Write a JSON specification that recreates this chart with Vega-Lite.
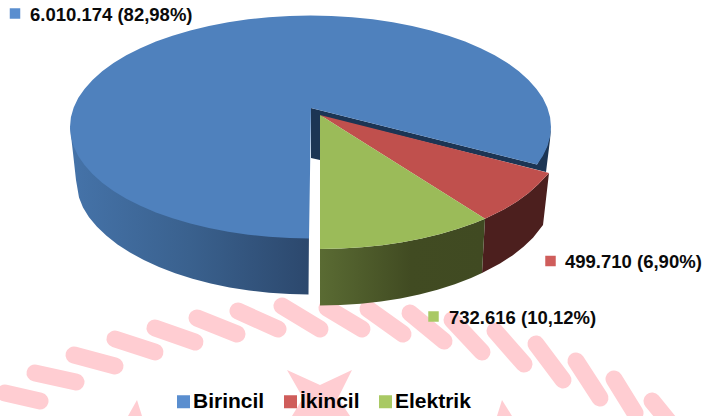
{"$schema":"https://vega.github.io/schema/vega-lite/v6.json","width":705,"height":416,"padding":0,"autosize":{"type":"none"},"background":"#ffffff","config":{"view":{"stroke":null}},
"datasets":{
"ropeaxis":[
{"b":1,"i":0,"x":5,"y":393},{"b":1,"i":1,"x":40,"y":401},
{"b":2,"i":0,"x":35,"y":373},{"b":2,"i":1,"x":76,"y":382},
{"b":3,"i":0,"x":74,"y":355},{"b":3,"i":1,"x":115,"y":366},
{"b":4,"i":0,"x":115,"y":339},{"b":4,"i":1,"x":155,"y":352},
{"b":5,"i":0,"x":155,"y":328},{"b":5,"i":1,"x":195,"y":342},
{"b":6,"i":0,"x":197,"y":318},{"b":6,"i":1,"x":237,"y":334},
{"b":7,"i":0,"x":238,"y":311},{"b":7,"i":1,"x":278,"y":329},
{"b":8,"i":0,"x":282,"y":306},{"b":8,"i":1,"x":320,"y":329},
{"b":9,"i":0,"x":327,"y":308},{"b":9,"i":1,"x":362,"y":329},
{"b":10,"i":0,"x":368,"y":309},{"b":10,"i":1,"x":403,"y":334},
{"b":11,"i":0,"x":410,"y":313},{"b":11,"i":1,"x":444,"y":341},
{"b":12,"i":0,"x":452,"y":320},{"b":12,"i":1,"x":482,"y":352},
{"b":13,"i":0,"x":495,"y":331},{"b":13,"i":1,"x":524,"y":364},
{"b":14,"i":0,"x":536,"y":344},{"b":14,"i":1,"x":563,"y":380},
{"b":15,"i":0,"x":576,"y":361},{"b":15,"i":1,"x":600,"y":398},
{"b":16,"i":0,"x":614,"y":379},{"b":16,"i":1,"x":635,"y":413},
{"b":17,"i":0,"x":652,"y":401},{"b":17,"i":1,"x":670,"y":423}
],
"shapes":[
{"p":"star","i":0,"x":287,"y":370},{"p":"star","i":1,"x":320,"y":385},{"p":"star","i":2,"x":352,"y":370},{"p":"star","i":3,"x":338,"y":398},{"p":"star","i":4,"x":350,"y":416},{"p":"star","i":5,"x":292,"y":416},{"p":"star","i":6,"x":303,"y":398},
{"p":"spike1","i":0,"x":137,"y":400},{"p":"spike1","i":1,"x":142,"y":416},{"p":"spike1","i":2,"x":128,"y":416},
{"p":"spike2","i":0,"x":502,"y":400},{"p":"spike2","i":1,"x":512,"y":416},{"p":"spike2","i":2,"x":497,"y":416},
{"p":"bluewall","i":0,"x":70,"y":127},{"p":"bluewall","i":1,"x":73,"y":153},{"p":"bluewall","i":2,"x":76,"y":180},{"p":"bluewall","i":3,"x":79,"y":197.4},{"p":"bluewall","i":4,"x":83,"y":207.4},{"p":"bluewall","i":5,"x":89,"y":217.2},{"p":"bluewall","i":6,"x":97,"y":226.7},{"p":"bluewall","i":7,"x":106.5,"y":235.8},{"p":"bluewall","i":8,"x":117.5,"y":244.4},{"p":"bluewall","i":9,"x":130,"y":252.5},{"p":"bluewall","i":10,"x":143.8,"y":260},{"p":"bluewall","i":11,"x":159,"y":267},{"p":"bluewall","i":12,"x":175.2,"y":273.2},{"p":"bluewall","i":13,"x":192.5,"y":278.8},{"p":"bluewall","i":14,"x":210.7,"y":283.5},{"p":"bluewall","i":15,"x":229.6,"y":287.4},{"p":"bluewall","i":16,"x":249.2,"y":290.5},{"p":"bluewall","i":17,"x":269.2,"y":292.7},{"p":"bluewall","i":18,"x":289.5,"y":294},{"p":"bluewall","i":19,"x":308.5,"y":294.5},{"p":"bluewall","i":20,"x":309,"y":230},{"p":"bluewall","i":21,"x":230,"y":222},{"p":"bluewall","i":22,"x":110,"y":170},
{"p":"inner","i":0,"x":311,"y":108},{"p":"inner","i":1,"x":537,"y":164.5},{"p":"inner","i":2,"x":547,"y":146},{"p":"inner","i":3,"x":551,"y":127},{"p":"inner","i":4,"x":550,"y":140},{"p":"inner","i":5,"x":546,"y":172},{"p":"inner","i":6,"x":320,"y":116},{"p":"inner","i":7,"x":320,"y":160},{"p":"inner","i":8,"x":311,"y":158},
{"p":"bluetop","i":0,"x":311,"y":108},{"p":"bluetop","i":1,"x":309,"y":238.5},{"p":"bluetop","i":2,"x":289.5,"y":238.1},{"p":"bluetop","i":3,"x":268.7,"y":236.8},{"p":"bluetop","i":4,"x":248.3,"y":234.7},{"p":"bluetop","i":5,"x":228.2,"y":231.8},{"p":"bluetop","i":6,"x":208.9,"y":228},{"p":"bluetop","i":7,"x":190.3,"y":223.6},{"p":"bluetop","i":8,"x":172.5,"y":218.3},{"p":"bluetop","i":9,"x":155.9,"y":212.4},{"p":"bluetop","i":10,"x":140.4,"y":205.8},{"p":"bluetop","i":11,"x":126.3,"y":198.7},{"p":"bluetop","i":12,"x":113.5,"y":191},{"p":"bluetop","i":13,"x":102.2,"y":182.8},{"p":"bluetop","i":14,"x":92.5,"y":174.1},{"p":"bluetop","i":15,"x":84.5,"y":165.1},{"p":"bluetop","i":16,"x":78.2,"y":155.9},{"p":"bluetop","i":17,"x":73.7,"y":146.4},{"p":"bluetop","i":18,"x":70.9,"y":136.7},{"p":"bluetop","i":19,"x":70,"y":127},{"p":"bluetop","i":20,"x":70.9,"y":117.3},{"p":"bluetop","i":21,"x":73.7,"y":107.6},{"p":"bluetop","i":22,"x":78.2,"y":98.1},{"p":"bluetop","i":23,"x":84.5,"y":88.9},{"p":"bluetop","i":24,"x":92.5,"y":79.9},{"p":"bluetop","i":25,"x":102.2,"y":71.2},{"p":"bluetop","i":26,"x":113.5,"y":63},{"p":"bluetop","i":27,"x":126.3,"y":55.3},{"p":"bluetop","i":28,"x":140.4,"y":48.2},{"p":"bluetop","i":29,"x":155.9,"y":41.6},{"p":"bluetop","i":30,"x":172.5,"y":35.7},{"p":"bluetop","i":31,"x":190.3,"y":30.4},{"p":"bluetop","i":32,"x":208.9,"y":26},{"p":"bluetop","i":33,"x":228.2,"y":22.2},{"p":"bluetop","i":34,"x":248.3,"y":19.3},{"p":"bluetop","i":35,"x":268.7,"y":17.2},{"p":"bluetop","i":36,"x":289.5,"y":15.9},{"p":"bluetop","i":37,"x":310.5,"y":15.5},{"p":"bluetop","i":38,"x":331.5,"y":15.9},{"p":"bluetop","i":39,"x":352.3,"y":17.2},{"p":"bluetop","i":40,"x":372.7,"y":19.3},{"p":"bluetop","i":41,"x":392.8,"y":22.2},{"p":"bluetop","i":42,"x":412.1,"y":26},{"p":"bluetop","i":43,"x":430.7,"y":30.4},{"p":"bluetop","i":44,"x":448.5,"y":35.7},{"p":"bluetop","i":45,"x":465.1,"y":41.6},{"p":"bluetop","i":46,"x":480.6,"y":48.2},{"p":"bluetop","i":47,"x":494.7,"y":55.3},{"p":"bluetop","i":48,"x":507.5,"y":63},{"p":"bluetop","i":49,"x":518.8,"y":71.2},{"p":"bluetop","i":50,"x":528.5,"y":79.9},{"p":"bluetop","i":51,"x":536.5,"y":88.9},{"p":"bluetop","i":52,"x":542.8,"y":98.1},{"p":"bluetop","i":53,"x":547.3,"y":107.6},{"p":"bluetop","i":54,"x":550.1,"y":117.3},{"p":"bluetop","i":55,"x":551,"y":127},{"p":"bluetop","i":56,"x":550.1,"y":136.7},{"p":"bluetop","i":57,"x":547.3,"y":146.4},{"p":"bluetop","i":58,"x":542.8,"y":155.9},{"p":"bluetop","i":59,"x":537,"y":164.5},
{"p":"greenwall","i":0,"x":320,"y":249},{"p":"greenwall","i":1,"x":341,"y":248.6},{"p":"greenwall","i":2,"x":361.8,"y":247.3},{"p":"greenwall","i":3,"x":382.2,"y":245.2},{"p":"greenwall","i":4,"x":402.3,"y":242.3},{"p":"greenwall","i":5,"x":421.6,"y":238.5},{"p":"greenwall","i":6,"x":440.3,"y":234.1},{"p":"greenwall","i":7,"x":458,"y":228.8},{"p":"greenwall","i":8,"x":474.6,"y":222.9},{"p":"greenwall","i":9,"x":485,"y":218.7},{"p":"greenwall","i":10,"x":482,"y":273},{"p":"greenwall","i":11,"x":471.1,"y":278},{"p":"greenwall","i":12,"x":454.8,"y":284.3},{"p":"greenwall","i":13,"x":437.5,"y":289.8},{"p":"greenwall","i":14,"x":419.3,"y":294.5},{"p":"greenwall","i":15,"x":400.4,"y":298.4},{"p":"greenwall","i":16,"x":380.8,"y":301.5},{"p":"greenwall","i":17,"x":360.8,"y":303.7},{"p":"greenwall","i":18,"x":340.5,"y":305},{"p":"greenwall","i":19,"x":320,"y":305.5},
{"p":"redwall","i":0,"x":485,"y":218.7},{"p":"redwall","i":1,"x":504.2,"y":209.2},{"p":"redwall","i":2,"x":517,"y":201.5},{"p":"redwall","i":3,"x":528.3,"y":193.3},{"p":"redwall","i":4,"x":538,"y":184.6},{"p":"redwall","i":5,"x":549,"y":173},{"p":"redwall","i":6,"x":543,"y":225},{"p":"redwall","i":7,"x":533,"y":237.7},{"p":"redwall","i":8,"x":523.5,"y":246.8},{"p":"redwall","i":9,"x":512.5,"y":255.4},{"p":"redwall","i":10,"x":500,"y":263.5},{"p":"redwall","i":11,"x":482,"y":273},
{"p":"redtop","i":0,"x":320,"y":115},{"p":"redtop","i":1,"x":549,"y":173},{"p":"redtop","i":2,"x":538,"y":184.6},{"p":"redtop","i":3,"x":528.3,"y":193.3},{"p":"redtop","i":4,"x":517,"y":201.5},{"p":"redtop","i":5,"x":504.2,"y":209.2},{"p":"redtop","i":6,"x":485,"y":218.7},
{"p":"greentop","i":0,"x":320,"y":115},{"p":"greentop","i":1,"x":485,"y":218.7},{"p":"greentop","i":2,"x":474.6,"y":222.9},{"p":"greentop","i":3,"x":458,"y":228.8},{"p":"greentop","i":4,"x":440.3,"y":234.1},{"p":"greentop","i":5,"x":421.6,"y":238.5},{"p":"greentop","i":6,"x":402.3,"y":242.3},{"p":"greentop","i":7,"x":382.2,"y":245.2},{"p":"greentop","i":8,"x":361.8,"y":247.3},{"p":"greentop","i":9,"x":341,"y":248.6},{"p":"greentop","i":10,"x":320,"y":249}
],
"labels":[
{"source":"Birincil","value":6010174,"label":"6.010.174 (82,98%)","sx":15,"sy":13.5,"tx":30,"ty":15},
{"source":"İkincil","value":499710,"label":"499.710 (6,90%)","sx":550.5,"sy":261,"tx":565,"ty":262},
{"source":"Elektrik","value":732616,"label":"732.616 (10,12%)","sx":433.5,"sy":316.5,"tx":449,"ty":318}
]},
"encoding":{"x":{"field":"x","type":"quantitative","scale":{"domain":[0,705],"nice":false},"axis":null},"y":{"field":"y","type":"quantitative","scale":{"domain":[416,0],"nice":false},"axis":null}},
"layer":[
{"data":{"name":"ropeaxis"},"mark":{"type":"line","stroke":"#FFCDD2","strokeWidth":17,"strokeCap":"round"},"encoding":{"detail":{"field":"b"},"order":{"field":"i"}}},
{"data":{"name":"shapes"},"transform":[{"filter":"datum.p==='star'||datum.p==='spike1'||datum.p==='spike2'"}],"mark":{"type":"line","fill":"#FFCDD2","strokeWidth":0},"encoding":{"detail":{"field":"p"},"order":{"field":"i"}}},
{"data":{"name":"shapes"},"transform":[{"filter":"datum.p==='bluewall'"}],"mark":{"type":"line","strokeWidth":0,"fill":{"gradient":"linear","x1":0,"x2":1,"y1":0,"y2":0,"stops":[{"offset":0,"color":"#4573A9"},{"offset":0.5,"color":"#3A618E"},{"offset":1,"color":"#2C486D"}]}},"encoding":{"order":{"field":"i"}}},
{"data":{"name":"shapes"},"transform":[{"filter":"datum.p==='inner'"}],"mark":{"type":"line","strokeWidth":0,"fill":"#1C3554"},"encoding":{"order":{"field":"i"}}},
{"data":{"name":"shapes"},"transform":[{"filter":"datum.p==='bluetop'"}],"mark":{"type":"line","strokeWidth":0,"fill":"#4F81BD"},"encoding":{"order":{"field":"i"}}},
{"data":{"name":"shapes"},"transform":[{"filter":"datum.p==='redwall'"}],"mark":{"type":"line","strokeWidth":0,"fill":"#4C1F1E"},"encoding":{"order":{"field":"i"}}},
{"data":{"name":"shapes"},"transform":[{"filter":"datum.p==='greenwall'"}],"mark":{"type":"line","strokeWidth":0,"fill":{"gradient":"linear","x1":0,"x2":1,"y1":0,"y2":0,"stops":[{"offset":0,"color":"#5A6B33"},{"offset":0.55,"color":"#414B22"},{"offset":1,"color":"#404A22"}]}},"encoding":{"order":{"field":"i"}}},
{"data":{"name":"shapes"},"transform":[{"filter":"datum.p==='redtop'"}],"mark":{"type":"line","strokeWidth":0,"fill":"#C0504D"},"encoding":{"order":{"field":"i"}}},
{"data":{"name":"shapes"},"transform":[{"filter":"datum.p==='greentop'"}],"mark":{"type":"line","strokeWidth":0,"fill":"#9BBB59"},"encoding":{"order":{"field":"i"}}},
{"data":{"name":"labels"},"mark":{"type":"point","shape":"square","filled":true,"size":110,"opacity":1},"encoding":{"x":{"field":"sx","type":"quantitative"},"y":{"field":"sy","type":"quantitative"},"color":{"field":"source","type":"nominal","scale":{"domain":["Birincil","İkincil","Elektrik"],"range":["#5A8ECF","#CF5D5B","#A9C964"]},"legend":{"orient":"none","legendX":173,"legendY":391,"direction":"horizontal","title":null,"symbolType":"square","symbolSize":169,"symbolOpacity":1,"symbolStrokeWidth":0,"labelFont":"Liberation Sans","labelFontWeight":"bold","labelFontSize":21,"labelColor":"#000000","labelOffset":-1,"columnPadding":15}}}},
{"data":{"name":"labels"},"mark":{"type":"text","align":"left","baseline":"middle","font":"Liberation Sans","fontWeight":"bold","fontSize":18.5,"color":"#0a0a0a"},"encoding":{"x":{"field":"tx","type":"quantitative"},"y":{"field":"ty","type":"quantitative"},"text":{"field":"label"}}}
]}
